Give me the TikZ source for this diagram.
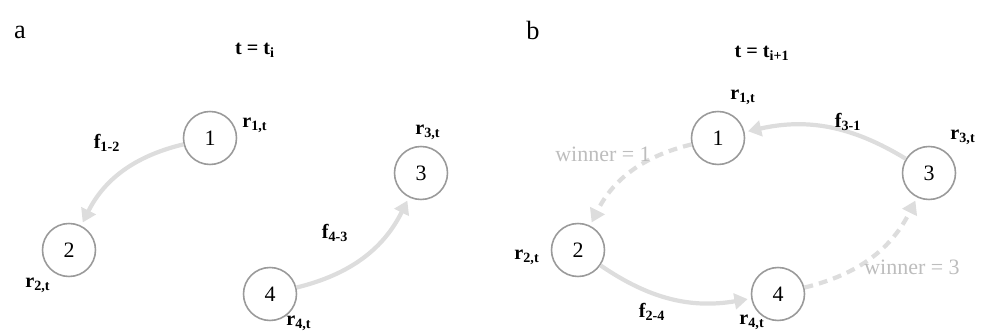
\documentclass[tikz,border=0pt]{standalone}
\usepackage{fontspec}
\setmainfont{Liberation Serif}
\usepackage{xcolor}
\definecolor{ringgray}{HTML}{9A9A9A}
\definecolor{flowgray}{HTML}{DDDDDD}
\definecolor{wingray}{HTML}{BDBDBD}
\usepackage{tikz}
\usetikzlibrary{arrows.meta}

\begin{document}
\begin{tikzpicture}[
  x=0.02cm, y=0.02cm,
  agent/.style={circle, draw=ringgray, line width=0.9pt, fill=white, minimum size=1.06cm, inner sep=0pt, font=\fontsize{12.5}{14}\selectfont},
  tag/.style={font=\fontsize{11.5}{14}\selectfont\bfseries, inner sep=1pt},
  panel/.style={font=\fontsize{15}{18}\selectfont, inner sep=0pt},
  flow/.style={draw=flowgray, line width=2.4pt, -{Triangle[length=7.5pt, width=9pt]}, shorten >=2pt},
  bid/.style={flow, dash pattern=on 5pt off 3.5pt},
  winlabel/.style={font=\fontsize{12.5}{14}\selectfont, text=wingray, inner sep=1pt}
]
  \useasboundingbox (0,0) rectangle (983,331);

  % panels and time stamps
  \node[panel] (pa) at (20,299) {a};
  \node[panel] (pb) at (533,301) {b};
  \node[tag] (ta) at (255,281) {t = t\textsubscript{i}};
  \node[tag] (tb) at (762,278) {t = t\textsubscript{i+1}};

  % agents
  \foreach \name/\x/\y/\num in {
    a1/210/193/1, a2/69/81/2, a3/421/158/3, a4/270/37/4,
    b1/718/193/1, b2/578/81/2, b3/929/158/3, b4/778/37/4}{
    \node[agent] (\name) at (\x,\y) {\num};
  }

  % resources
  \foreach \name/\x/\y/\idx in {
    ra1/255/206/1, ra2/38/46/2, ra3/428/199/3, ra4/299/8/4,
    rb1/743/234/1, rb2/527/74/2, rb3/963/194/3, rb4/752/9/4}{
    \node[tag] (\name) at (\x,\y) {r\textsubscript{\idx,t}};
  }

  % flows at t_i
  \draw[flow] (a1) to[bend right=25] (a2);
  \draw[flow] (a4) to[bend right=25] (a3);
  \node[tag] (fa12) at (107,188) {f\textsubscript{1-2}};
  \node[tag] (fa43) at (335,98) {f\textsubscript{4-3}};

  % flows at t_{i+1}
  \draw[flow] (b3) to[bend right=22] (b1);
  \draw[flow] (b2) to[bend right=22] (b4);
  \draw[bid] (b1) to[bend right=25] (b2);
  \draw[bid] (b4) to[bend right=25] (b3);
  \node[tag] (fb31) at (848,209) {f\textsubscript{3-1}};
  \node[tag] (fb24) at (652,19) {f\textsubscript{2-4}};
  \node[winlabel] (w1) at (603,177) {winner = 1};
  \node[winlabel] (w3) at (912,64) {winner = 3};
\end{tikzpicture}
\end{document}
